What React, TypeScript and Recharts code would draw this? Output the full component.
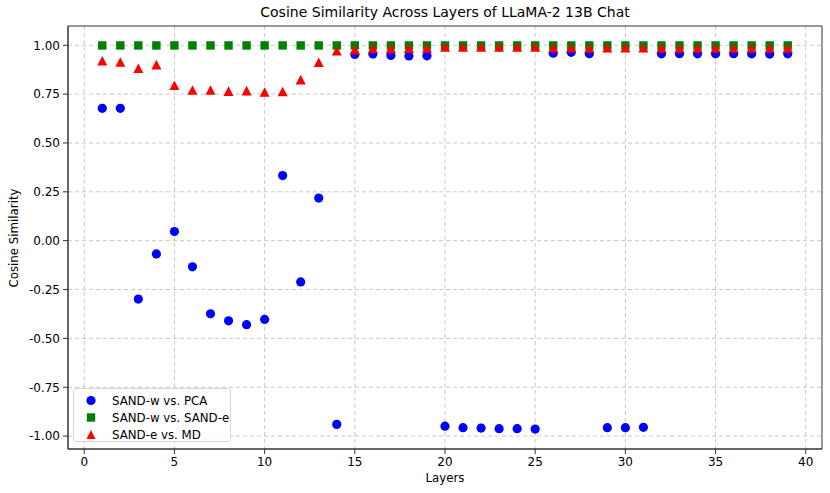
import React from 'react';
import { ScatterChart, Scatter, XAxis, YAxis, CartesianGrid, ReferenceArea } from 'recharts';

const layers = [1, 2, 3, 4, 5, 6, 7, 8, 9, 10, 11, 12, 13, 14, 15, 16, 17, 18, 19, 20, 21, 22, 23, 24, 25, 26, 27, 28, 29, 30, 31, 32, 33, 34, 35, 36, 37, 38, 39];

const pcaValues = [0.677, 0.677, -0.299, -0.068, 0.047, -0.134, -0.374, -0.41, -0.43, -0.403, 0.333, -0.211, 0.218, -0.94, 0.953, 0.955, 0.948, 0.945, 0.946, -0.949, -0.957, -0.959, -0.962, -0.962, -0.964, 0.959, 0.964, 0.957, -0.957, -0.957, -0.955, 0.956, 0.957, 0.956, 0.956, 0.957, 0.956, 0.955, 0.956];

const sandEValues = [0.999, 0.999, 0.999, 0.999, 0.999, 0.999, 0.999, 0.999, 0.999, 0.999, 0.999, 0.999, 0.999, 0.999, 0.999, 0.999, 0.999, 0.999, 0.999, 0.999, 0.999, 0.999, 0.999, 0.999, 0.999, 0.999, 0.999, 0.999, 0.999, 0.999, 0.999, 0.999, 0.999, 0.999, 0.999, 0.999, 0.999, 0.999, 0.999];

const mdValues = [0.92, 0.913, 0.881, 0.9, 0.794, 0.77, 0.77, 0.764, 0.767, 0.76, 0.762, 0.823, 0.912, 0.971, 0.976, 0.982, 0.983, 0.984, 0.985, 0.99, 0.99, 0.99, 0.99, 0.99, 0.99, 0.986, 0.986, 0.985, 0.987, 0.987, 0.986, 0.985, 0.985, 0.985, 0.985, 0.985, 0.985, 0.985, 0.985];

const xTicks = [0, 5, 10, 15, 20, 25, 30, 35, 40];
const yTicks = [-1, -0.75, -0.5, -0.25, 0, 0.25, 0.5, 0.75, 1];

const seriesNames = ['SAND-w vs. PCA', 'SAND-w vs. SAND-e', 'SAND-e vs. MD'];

const FONT = '"DejaVu Sans", sans-serif';

const Circle = (props: any) => <circle cx={props.cx} cy={props.cy} r={4.6} fill="#0000ff" />;
const Square = (props: any) => <rect x={props.cx - 4.2} y={props.cy - 4.2} width={8.4} height={8.4} fill="#008000" />;
const Triangle = (props: any) => (
  <polygon
    points={`${props.cx},${props.cy - 5} ${props.cx - 5},${props.cy + 4.6} ${props.cx + 5},${props.cy + 4.6}`}
    fill="#ff0000"
  />
);

const App: React.FC = () => {
  const pcaData = layers.map((l, i) => ({ x: l, y: pcaValues[i] }));
  const sandEData = layers.map((l, i) => ({ x: l, y: sandEValues[i] }));
  const mdData = layers.map((l, i) => ({ x: l, y: mdValues[i] }));

  return (
    <div style={{ position: 'absolute', left: 0, top: 0, width: 830, height: 493, background: '#fff', fontFamily: FONT }}>
      <div style={{ position: 'absolute', left: 68, width: 754, top: 4, textAlign: 'center', fontSize: 14, color: '#000' }}>
        Cosine Similarity Across Layers of LLaMA-2 13B Chat
      </div>
      <div
        style={{
          position: 'absolute', left: 14, top: 238, fontSize: 11.8, color: '#000',
          transform: 'translate(-50%, -50%) rotate(-90deg)', whiteSpace: 'nowrap',
        }}
      >
        Cosine Similarity
      </div>
      <div style={{ position: 'absolute', left: 68, width: 754, top: 471, textAlign: 'center', fontSize: 11.8, color: '#000' }}>
        Layers
      </div>

      <ScatterChart width={830} height={493} margin={{ top: 26, right: 8, bottom: 0, left: 0 }} style={{ position: 'absolute', left: 0, top: 0 }}>
        <CartesianGrid stroke="#c8c8c8" strokeDasharray="4 3" horizontalValues={yTicks} verticalValues={xTicks} />
        <XAxis
          type="number"
          dataKey="x"
          domain={[-0.9, 40.9]}
          ticks={xTicks}
          height={44}
          tickSize={5}
          tickMargin={3}
          stroke="#333"
          tick={{ fill: '#000', fontSize: 12, fontFamily: FONT }}
          allowDataOverflow
        />
        <YAxis
          type="number"
          dataKey="y"
          domain={[-1.066, 1.0985]}
          ticks={yTicks}
          width={68}
          tickSize={5}
          tickMargin={3}
          stroke="#333"
          tick={{ fill: '#000', fontSize: 12, fontFamily: FONT }}
          tickFormatter={(v: number) => v.toFixed(2)}
          allowDataOverflow
        />
        <Scatter name={seriesNames[0]} data={pcaData} shape={Circle} isAnimationActive={false} />
        <Scatter name={seriesNames[1]} data={sandEData} shape={Square} isAnimationActive={false} />
        <Scatter name={seriesNames[2]} data={mdData} shape={Triangle} isAnimationActive={false} />
        <ReferenceArea x1={-0.9} x2={40.9} y1={-1.066} y2={1.0985} fill="none" stroke="#333" strokeWidth={1} ifOverflow="visible" />
      </ScatterChart>

      <div
        style={{
          position: 'absolute', left: 73, top: 388, width: 158, height: 54, boxSizing: 'border-box',
          border: '1px solid #d6d6d6', borderRadius: 3, background: 'rgba(255,255,255,0.85)', fontSize: 11.8,
        }}
      >
        {seriesNames.map((name, i) => (
          <div key={name} style={{ position: 'absolute', left: 0, top: 3 + i * 17, height: 17, display: 'flex', alignItems: 'center' }}>
            <svg width={34} height={17} style={{ display: 'block' }}>
              {i === 0 && <circle cx={17} cy={8.5} r={4.6} fill="#0000ff" />}
              {i === 1 && <rect x={12.8} y={4.3} width={8.4} height={8.4} fill="#008000" />}
              {i === 2 && <polygon points="17,4 12.5,13 21.5,13" fill="#ff0000" />}
            </svg>
            <span style={{ marginLeft: 4, whiteSpace: 'nowrap' }}>{name}</span>
          </div>
        ))}
      </div>
    </div>
  );
};

export default App;
